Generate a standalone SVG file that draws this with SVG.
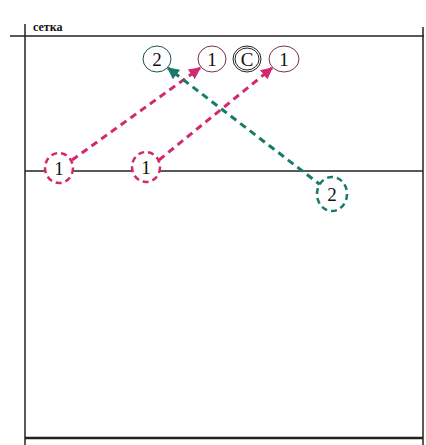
<svg xmlns="http://www.w3.org/2000/svg" width="426" height="445" viewBox="0 0 426 445">
<defs>
<style>
.court{stroke:#222;stroke-width:1.5;fill:none}
.pl{fill:#fff;stroke:#222;stroke-width:1}
.lbl{font-family:"Liberation Serif",serif;font-size:19px;fill:#111;text-anchor:middle}
.mag{stroke:#d2286e;stroke-width:3;stroke-dasharray:7,5;fill:none}
.teal{stroke:#1a7a6a;stroke-width:3;stroke-dasharray:7,5;fill:none}
.dmag{fill:#fff;stroke:#d2286e;stroke-width:2.5;stroke-dasharray:6,4}
.dteal{fill:#fff;stroke:#1a7a6a;stroke-width:2.5;stroke-dasharray:6,4}
</style>
<marker id="am" viewBox="0 0 10 10" refX="9" refY="5" markerWidth="4" markerHeight="4" orient="auto" markerUnits="strokeWidth"><path d="M0,0L10,5L0,10z" fill="#d2286e"/></marker>
<marker id="at" viewBox="0 0 10 10" refX="9" refY="5" markerWidth="4" markerHeight="4" orient="auto" markerUnits="strokeWidth"><path d="M0,0L10,5L0,10z" fill="#1a7a6a"/></marker>
</defs>
<rect width="426" height="445" fill="#fff"/>
<g id="court">
<line class="court" x1="10" y1="36" x2="424" y2="36"/>
<line class="court" x1="25" y1="24" x2="25" y2="445"/>
<line class="court" x1="423" y1="27" x2="423" y2="445"/>
<line class="court" x1="25" y1="171" x2="423" y2="171"/>
<line class="court" x1="25" y1="438" x2="423" y2="438" style="stroke-width:2.5"/>
<text x="33" y="31" style="font-family:'Liberation Serif',serif;font-size:12px;font-weight:bold;fill:#111">сетка</text>
</g>
<g id="connectors">
<line class="mag" x1="72" y1="160" x2="200" y2="68" marker-end="url(#am)"/>
<line class="mag" x1="159" y1="160" x2="272" y2="68" marker-end="url(#am)"/>
<line class="teal" x1="322" y1="186" x2="168" y2="68" marker-end="url(#at)"/>
</g>
<g id="p2top"><ellipse class="pl" cx="157" cy="59" rx="14" ry="13" style="stroke:#1d4f47"/><text class="lbl" x="157" y="66">2</text></g>
<g id="p1top"><ellipse class="pl" cx="212" cy="59" rx="14" ry="13" style="stroke:#7a3050"/><text class="lbl" x="212" y="66">1</text></g>
<g id="pC"><ellipse class="pl" cx="247" cy="59" rx="14" ry="13"/><ellipse cx="247" cy="59" rx="12" ry="11" fill="none" stroke="#222" stroke-width="1"/><text class="lbl" x="247" y="66">C</text></g>
<g id="p1top2"><ellipse class="pl" cx="284" cy="59" rx="15" ry="13" style="stroke:#7a3050"/><text class="lbl" x="284" y="66">1</text></g>
<g id="p1a"><ellipse class="dmag" cx="59" cy="168" rx="14" ry="15"/><text class="lbl" x="59" y="175">1</text></g>
<g id="p1b"><ellipse class="dmag" cx="146" cy="167" rx="14" ry="15"/><text class="lbl" x="146" y="174">1</text></g>
<g id="p2b"><ellipse class="dteal" cx="332" cy="194" rx="15" ry="17"/><text class="lbl" x="332" y="201">2</text></g>
</svg>
